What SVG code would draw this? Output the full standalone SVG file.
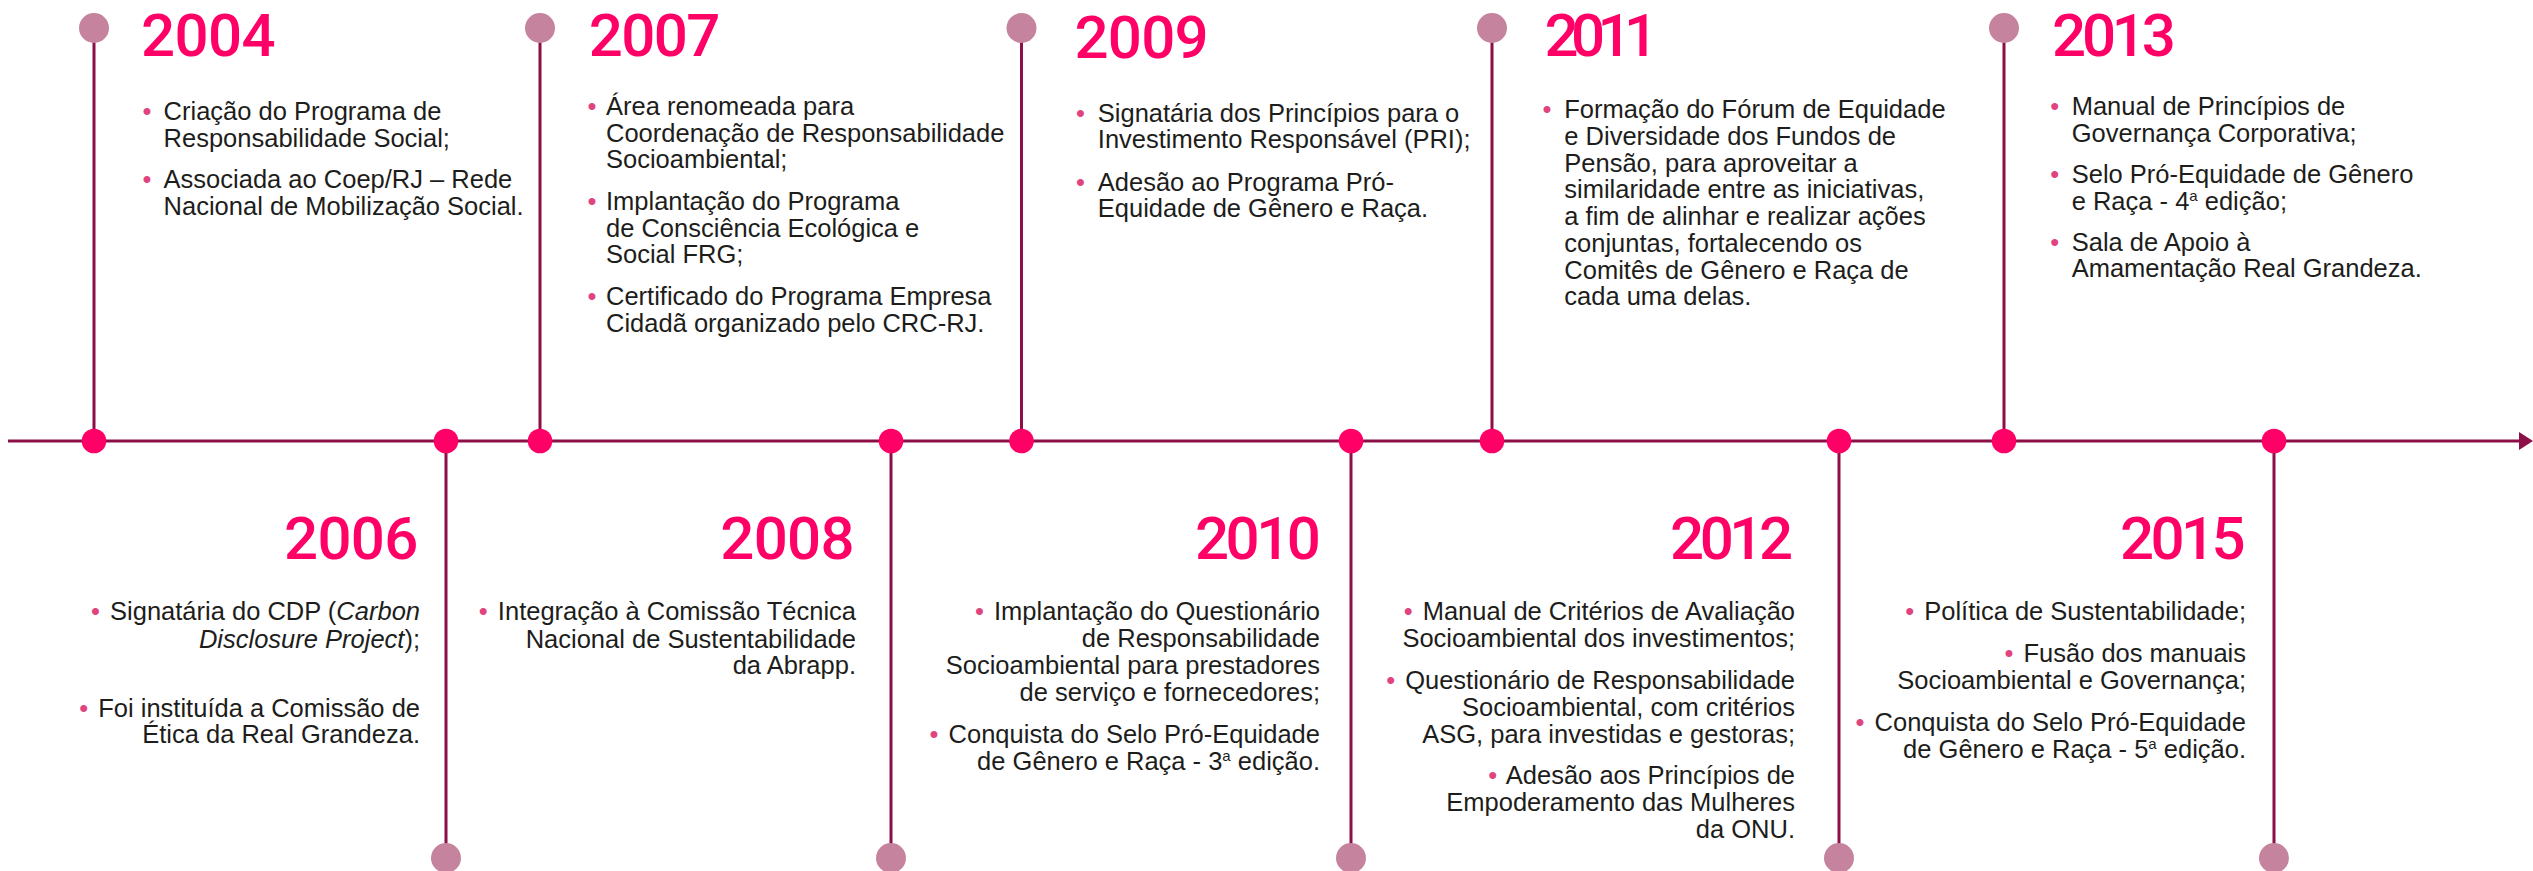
<svg xmlns="http://www.w3.org/2000/svg" width="2533" height="871" viewBox="0 0 2533 871">
<defs>
<style>
.t{font-family:"Liberation Sans",Arial,sans-serif;font-size:25.5px;fill:#1d1d1b}
.r{text-anchor:end}
.b{fill:#e0447e}
.i{font-style:italic}
.s{font-size:15px}
.y{font-family:Roboto,"Liberation Sans",Arial,sans-serif;font-weight:500;font-size:60px;fill:#ff0066}
.v{stroke:#8c0f48;stroke-width:3;fill:none}
.c{fill:#c5839e}
.d{fill:#ff0066}
</style>
<marker id="arr" markerUnits="userSpaceOnUse" markerWidth="14" markerHeight="18" refX="0" refY="9" orient="auto">
<path d="M0,0 L14,9 L0,18 Z" fill="#8c0f48"/>
</marker>
</defs>
<rect width="2533" height="871" fill="#ffffff"/>
<g id="connectors">
<line class="v" x1="8" y1="441" x2="2519" y2="441" marker-end="url(#arr)"/>
<line class="v" x1="94" y1="28" x2="94" y2="441"/>
<line class="v" x1="446" y1="441" x2="446" y2="858"/>
<line class="v" x1="540" y1="28" x2="540" y2="441"/>
<line class="v" x1="891" y1="441" x2="891" y2="858"/>
<line class="v" x1="1021.5" y1="28" x2="1021.5" y2="441"/>
<line class="v" x1="1351" y1="441" x2="1351" y2="858"/>
<line class="v" x1="1492" y1="28" x2="1492" y2="441"/>
<line class="v" x1="1839" y1="441" x2="1839" y2="858"/>
<line class="v" x1="2004" y1="28" x2="2004" y2="441"/>
<line class="v" x1="2274" y1="441" x2="2274" y2="858"/>
</g>
<g id="y2004">
<circle class="c" cx="94" cy="28" r="15"/>
<circle class="d" cx="94" cy="441" r="12.3"/>
<text class="y" x="141" y="56" textLength="134.5">2004</text>
<text class="t" y="120"><tspan class="b" x="142.5">•</tspan><tspan x="163.6">Criação do Programa de</tspan></text>
<text class="t" x="163.6" y="146.7">Responsabilidade Social;</text>
<text class="t" y="188.3"><tspan class="b" x="142.5">•</tspan><tspan x="163.6">Associada ao Coep/RJ – Rede</tspan></text>
<text class="t" x="163.6" y="215">Nacional de Mobilização Social.</text>
</g>
<g id="y2006">
<circle class="d" cx="446" cy="441" r="12.3"/>
<circle class="c" cx="446" cy="858" r="15"/>
<text class="y r" x="418.4" y="559" textLength="134.4">2006</text>
<text class="t r" x="420" y="620"><tspan class="b">•</tspan><tspan dx="3"> Signatária do CDP (</tspan><tspan class="i">Carbon</tspan></text>
<text class="t r" x="420" y="647.7"><tspan class="i">Disclosure Project</tspan>);</text>
<text class="t r" x="420" y="716.7"><tspan class="b">•</tspan><tspan dx="3"> Foi instituída a Comissão de</tspan></text>
<text class="t r" x="420" y="742.7">Ética da Real Grandeza.</text>
</g>
<g id="y2007">
<circle class="c" cx="540" cy="28" r="15"/>
<circle class="d" cx="540" cy="441" r="12.3"/>
<text class="y" x="588.8" y="56" textLength="131.6">2007</text>
<text class="t" y="115"><tspan class="b" x="587.5">•</tspan><tspan x="606">Área renomeada para</tspan></text>
<text class="t" x="606" y="141.7">Coordenação de Responsabilidade</text>
<text class="t" x="606" y="168">Socioambiental;</text>
<text class="t" y="210"><tspan class="b" x="587.5">•</tspan><tspan x="606">Implantação do Programa</tspan></text>
<text class="t" x="606" y="236.5">de Consciência Ecológica e</text>
<text class="t" x="606" y="263">Social FRG;</text>
<text class="t" y="305"><tspan class="b" x="587.5">•</tspan><tspan x="606">Certificado do Programa Empresa</tspan></text>
<text class="t" x="606" y="331.7">Cidadã organizado pelo CRC-RJ.</text>
</g>
<g id="y2008">
<circle class="d" cx="891" cy="441" r="12.3"/>
<circle class="c" cx="891" cy="858" r="15"/>
<text class="y r" x="854.6" y="559" textLength="134.3">2008</text>
<text class="t r" x="856" y="620"><tspan class="b">•</tspan><tspan dx="3"> Integração à Comissão Técnica</tspan></text>
<text class="t r" x="856" y="647.7">Nacional de Sustentabilidade</text>
<text class="t r" x="856" y="674.3">da Abrapp.</text>
</g>
<g id="y2009">
<circle class="c" cx="1021.5" cy="28" r="15"/>
<circle class="d" cx="1021.5" cy="441" r="12.3"/>
<text class="y" x="1074.4" y="58" textLength="134.3">2009</text>
<text class="t" y="121.7"><tspan class="b" x="1076">•</tspan><tspan x="1097.8">Signatária dos Princípios para o</tspan></text>
<text class="t" x="1097.8" y="148.3">Investimento Responsável (PRI);</text>
<text class="t" y="190.7"><tspan class="b" x="1076">•</tspan><tspan x="1097.8">Adesão ao Programa Pró-</tspan></text>
<text class="t" x="1097.8" y="217">Equidade de Gênero e Raça.</text>
</g>
<g id="y2010">
<circle class="d" cx="1351" cy="441" r="12.3"/>
<circle class="c" cx="1351" cy="858" r="15"/>
<text class="y r" x="1320.8" y="559" textLength="125.8">2010</text>
<text class="t r" x="1320" y="620"><tspan class="b">•</tspan><tspan dx="3"> Implantação do Questionário</tspan></text>
<text class="t r" x="1320" y="647.3">de Responsabilidade</text>
<text class="t r" x="1320" y="674">Socioambiental para prestadores</text>
<text class="t r" x="1320" y="700.7">de serviço e fornecedores;</text>
<text class="t r" x="1320" y="742.7"><tspan class="b">•</tspan><tspan dx="3"> Conquista do Selo Pró-Equidade</tspan></text>
<text class="t r" x="1320" y="769.5">de Gênero e Raça - 3<tspan class="s" dy="-9">a</tspan><tspan dy="9"> edição.</tspan></text>
</g>
<g id="y2011">
<circle class="c" cx="1492" cy="28" r="15"/>
<circle class="d" cx="1492" cy="441" r="12.3"/>
<text class="y" x="1544.4" y="56" textLength="113.6">2011</text>
<text class="t" y="118.3"><tspan class="b" x="1542.5">•</tspan><tspan x="1564.3">Formação do Fórum de Equidade</tspan></text>
<text class="t" x="1564.3" y="145">e Diversidade dos Fundos de</text>
<text class="t" x="1564.3" y="171.7">Pensão, para aproveitar a</text>
<text class="t" x="1564.3" y="198.4">similaridade entre as iniciativas,</text>
<text class="t" x="1564.3" y="225.1">a fim de alinhar e realizar ações</text>
<text class="t" x="1564.3" y="251.8">conjuntas, fortalecendo os</text>
<text class="t" x="1564.3" y="278.5">Comitês de Gênero e Raça de</text>
<text class="t" x="1564.3" y="305.2">cada uma delas.</text>
</g>
<g id="y2012">
<circle class="d" cx="1839" cy="441" r="12.3"/>
<circle class="c" cx="1839" cy="858" r="15"/>
<text class="y r" x="1793" y="559" textLength="123">2012</text>
<text class="t r" x="1795" y="620"><tspan class="b">•</tspan><tspan dx="3"> Manual de Critérios de Avaliação</tspan></text>
<text class="t r" x="1795" y="647.3">Socioambiental dos investimentos;</text>
<text class="t r" x="1795" y="689.3"><tspan class="b">•</tspan><tspan dx="3"> Questionário de Responsabilidade</tspan></text>
<text class="t r" x="1795" y="716">Socioambiental, com critérios</text>
<text class="t r" x="1795" y="742.7">ASG, para investidas e gestoras;</text>
<text class="t r" x="1795" y="784.3"><tspan class="b">•</tspan><tspan dx="3"> Adesão aos Princípios de</tspan></text>
<text class="t r" x="1795" y="811">Empoderamento das Mulheres</text>
<text class="t r" x="1795" y="837.7">da ONU.</text>
</g>
<g id="y2013">
<circle class="c" cx="2004" cy="28" r="15"/>
<circle class="d" cx="2004" cy="441" r="12.3"/>
<text class="y" x="2052" y="56" textLength="123.8">2013</text>
<text class="t" y="115"><tspan class="b" x="2050.3">•</tspan><tspan x="2071.7">Manual de Princípios de</tspan></text>
<text class="t" x="2071.7" y="141.7">Governança Corporativa;</text>
<text class="t" y="182.7"><tspan class="b" x="2050.3">•</tspan><tspan x="2071.7">Selo Pró-Equidade de Gênero</tspan></text>
<text class="t" x="2071.7" y="210">e Raça - 4<tspan class="s" dy="-9">a</tspan><tspan dy="9"> edição;</tspan></text>
<text class="t" y="250.7"><tspan class="b" x="2050.3">•</tspan><tspan x="2071.7">Sala de Apoio à</tspan></text>
<text class="t" x="2071.7" y="277.3">Amamentação Real Grandeza.</text>
</g>
<g id="y2015">
<circle class="d" cx="2274" cy="441" r="12.3"/>
<circle class="c" cx="2274" cy="858" r="15"/>
<text class="y r" x="2245.5" y="559" textLength="125.5">2015</text>
<text class="t r" x="2246" y="620"><tspan class="b">•</tspan><tspan dx="3"> Política de Sustentabilidade;</tspan></text>
<text class="t r" x="2246" y="662"><tspan class="b">•</tspan><tspan dx="3"> Fusão dos manuais</tspan></text>
<text class="t r" x="2246" y="689">Socioambiental e Governança;</text>
<text class="t r" x="2246" y="731"><tspan class="b">•</tspan><tspan dx="3"> Conquista do Selo Pró-Equidade</tspan></text>
<text class="t r" x="2246" y="758">de Gênero e Raça - 5<tspan class="s" dy="-9">a</tspan><tspan dy="9"> edição.</tspan></text>
</g>
</svg>
